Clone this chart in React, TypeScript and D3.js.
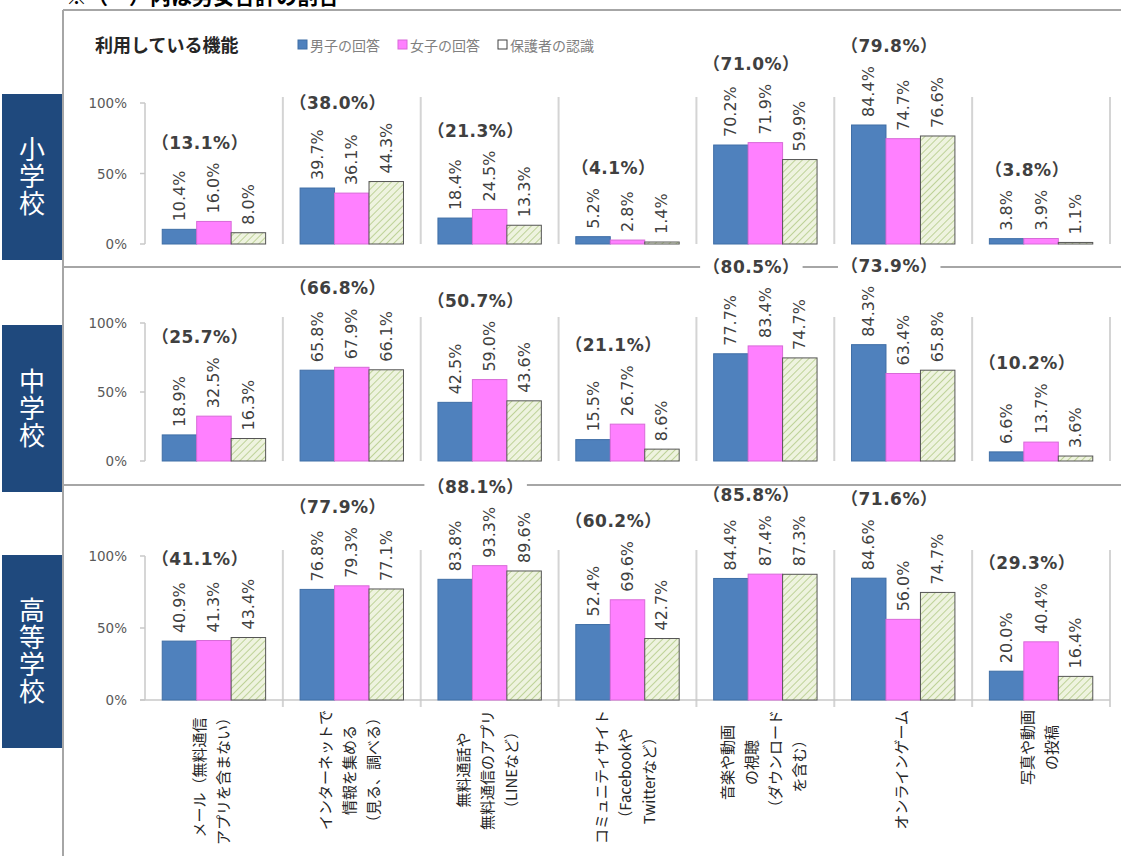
import * as d3 from "d3";
import React from "react";

const categoryLines: string[][] = [
  ["メール（無料通信", "アプリを含まない）"],
  ["インターネットで", "情報を集める", "（見る、調べる）"],
  ["無料通話や", "無料通信のアプリ", "（LINEなど）"],
  ["コミュニティサイト", "（Facebookや", "Twitterなど）"],
  ["音楽や動画", "の視聴", "（ダウンロード", "を含む）"],
  ["オンラインゲーム"],
  ["写真や動画", "の投稿"],
];
const categories = categoryLines.map((l) => l.join(""));
const seriesNames = ["男子の回答", "女子の回答", "保護者の認識"];

// 小学校
const elemBoys = [10.4, 39.7, 18.4, 5.2, 70.2, 84.4, 3.8];
const elemGirls = [16.0, 36.1, 24.5, 2.8, 71.9, 74.7, 3.9];
const elemParents = [8.0, 44.3, 13.3, 1.4, 59.9, 76.6, 1.1];
const elemTotal = [13.1, 38.0, 21.3, 4.1, 71.0, 79.8, 3.8];
// 中学校
const midBoys = [18.9, 65.8, 42.5, 15.5, 77.7, 84.3, 6.6];
const midGirls = [32.5, 67.9, 59.0, 26.7, 83.4, 63.4, 13.7];
const midParents = [16.3, 66.1, 43.6, 8.6, 74.7, 65.8, 3.6];
const midTotal = [25.7, 66.8, 50.7, 21.1, 80.5, 73.9, 10.2];
// 高等学校
const highBoys = [40.9, 76.8, 83.8, 52.4, 84.4, 84.6, 20.0];
const highGirls = [41.3, 79.3, 93.3, 69.6, 87.4, 56.0, 40.4];
const highParents = [43.4, 77.1, 89.6, 42.7, 87.3, 74.7, 16.4];
const highTotal = [41.1, 77.9, 88.1, 60.2, 85.8, 71.6, 29.3];

const yTicks = [0, 50, 100];

const panels = [
  { name: "小学校", series: [elemBoys, elemGirls, elemParents], total: elemTotal, y0: 244, y1: 103, box: [94, 260], baseline: false },
  { name: "中学校", series: [midBoys, midGirls, midParents], total: midTotal, y0: 461, y1: 323, box: [325, 492], baseline: false },
  { name: "高等学校", series: [highBoys, highGirls, highParents], total: highTotal, y0: 700, y1: 556, box: [555, 748], baseline: true },
];

const W = 1121;
const H = 856;
const numFont = "Verdana, 'DejaVu Sans', 'Noto Sans CJK JP', sans-serif";
const jpFont = "'Noto Sans CJK JP', sans-serif";
const colors = ["#4F81BD", "#FF80FF", "url(#hatch)"];
const strokes = ["#3f6ea6", "#d86ad8", "#555"];

export default function App() {
  const svgRef = React.useRef<SVGSVGElement | null>(null);

  React.useEffect(() => {
    const svg = d3.select(svgRef.current);
    svg.selectAll("*").remove();

    const defs = svg.append("defs");
    const pat = defs
      .append("pattern")
      .attr("id", "hatch")
      .attr("patternUnits", "userSpaceOnUse")
      .attr("width", 5)
      .attr("height", 5)
      .attr("patternTransform", "rotate(45)");
    pat.append("rect").attr("width", 5).attr("height", 5).attr("fill", "#EEF3DF");
    pat.append("line").attr("x1", 0).attr("y1", 0).attr("x2", 0).attr("y2", 5).attr("stroke", "#A9C47A").attr("stroke-width", 1.4);

    const x = d3.scaleBand<string>().domain(categories).range([145, 1110]).padding(0);
    const xs = d3.scaleBand<string>().domain(seriesNames).range([0, x.bandwidth()]).paddingInner(0).paddingOuter(0.5);

    // top caption (cut off by the page edge, as in the source)
    svg
      .append("text")
      .attr("x", 66)
      .attr("y", 4)
      .attr("font-family", jpFont)
      .attr("font-weight", "bold")
      .attr("font-size", 21)
      .attr("fill", "#000")
      .text("※（　）内は男女合計の割合");

    // frame
    svg.append("line").attr("x1", 63).attr("x2", W).attr("y1", 10).attr("y2", 10).attr("stroke", "#a6a6a6").attr("stroke-width", 2);
    svg.append("line").attr("x1", 63).attr("x2", 63).attr("y1", 10).attr("y2", H).attr("stroke", "#a6a6a6").attr("stroke-width", 2);

    // panel separators
    [267, 485].forEach((yy) => {
      svg.append("line").attr("x1", 63).attr("x2", W).attr("y1", yy).attr("y2", yy).attr("stroke", "#a6a6a6").attr("stroke-width", 2);
    });

    // legend
    svg
      .append("text")
      .attr("x", 95)
      .attr("y", 44)
      .attr("dominant-baseline", "central")
      .attr("font-family", jpFont)
      .attr("font-weight", "bold")
      .attr("font-size", 18)
      .attr("fill", "#262626")
      .text("利用している機能");
    const legendX = d3.scalePoint<string>().domain(seriesNames).range([298, 498]);
    seriesNames.forEach((s, i) => {
      const lx = legendX(s) ?? 0;
      svg
        .append("rect")
        .attr("x", lx)
        .attr("y", 40)
        .attr("width", 9)
        .attr("height", 9)
        .attr("fill", i === 2 ? "#fff" : colors[i])
        .attr("stroke", i === 2 ? "#404040" : strokes[i])
        .attr("stroke-width", 1);
      svg
        .append("text")
        .attr("x", lx + 12)
        .attr("y", 44.5)
        .attr("dominant-baseline", "central")
        .attr("font-family", jpFont)
        .attr("font-size", 14)
        .attr("fill", "#7f7f7f")
        .text(s);
    });

    const labelGroup = svg.append("g");

    panels.forEach((p) => {
      const y = d3.scaleLinear().domain([0, 100]).range([p.y0, p.y1]);

      // side label box with vertical text
      svg
        .append("rect")
        .attr("x", 2)
        .attr("y", p.box[0])
        .attr("width", 60)
        .attr("height", p.box[1] - p.box[0])
        .attr("fill", "#1F497D");
      svg
        .append("text")
        .attr("x", 32)
        .attr("y", (p.box[0] + p.box[1]) / 2)
        .attr("text-anchor", "middle")
        .style("writing-mode", "vertical-rl")
        .attr("letter-spacing", 1)
        .attr("font-family", jpFont)
        .attr("font-size", 26)
        .attr("fill", "#fff")
        .text(p.name);

      // y axis
      svg.append("line").attr("x1", 145).attr("x2", 145).attr("y1", y(100)).attr("y2", y(0)).attr("stroke", "#c8c8c8").attr("stroke-width", 1.5);
      yTicks.forEach((t) => {
        svg.append("line").attr("x1", 140).attr("x2", 145).attr("y1", y(t)).attr("y2", y(t)).attr("stroke", "#c8c8c8").attr("stroke-width", 1.5);
        svg
          .append("text")
          .attr("x", 127)
          .attr("y", y(t))
          .attr("text-anchor", "end")
          .attr("dominant-baseline", "central")
          .attr("font-family", numFont)
          .attr("font-size", 13.5)
          .attr("fill", "#595959")
          .text(`${t}%`);
      });

      // group separators
      categories.forEach((c) => {
        const gx = (x(c) ?? 0) + x.bandwidth();
        svg
          .append("line")
          .attr("x1", gx)
          .attr("x2", gx)
          .attr("y1", y(100) - 6)
          .attr("y2", p.baseline ? y(0) + 7 : y(0))
          .attr("stroke", "#d4d4d4")
          .attr("stroke-width", 2);
      });
      if (p.baseline) {
        svg.append("line").attr("x1", 140).attr("x2", 1110).attr("y1", y(0)).attr("y2", y(0)).attr("stroke", "#c8c8c8").attr("stroke-width", 1.5);
      }

      // bars + value labels
      categories.forEach((c, ci) => {
        let topMost = Infinity;
        seriesNames.forEach((s, si) => {
          const v = p.series[si][ci];
          const bx = (x(c) ?? 0) + (xs(s) ?? 0);
          svg
            .append("rect")
            .attr("x", bx)
            .attr("y", y(v))
            .attr("width", xs.bandwidth())
            .attr("height", y(0) - y(v))
            .attr("fill", colors[si])
            .attr("stroke", strokes[si])
            .attr("stroke-width", 1);
          const t = svg
            .append("text")
            .attr("transform", `translate(${bx + xs.bandwidth() / 2},${y(v) - 8}) rotate(-90)`)
            .attr("text-anchor", "start")
            .attr("dominant-baseline", "central")
            .attr("font-family", numFont)
            .attr("font-size", 16)
            .attr("fill", "#404040")
            .text(`${v.toFixed(1)}%`);
          const len = (t.node() as SVGTextElement).getComputedTextLength();
          topMost = Math.min(topMost, y(v) - 8 - len);
        });
        const cx = (x(c) ?? 0) + x.bandwidth() / 2 - 14;
        const ty = topMost - 20;
        const g = labelGroup.append("g");
        const bg = g.append("rect").attr("fill", "#fff");
        const tt = g
          .append("text")
          .attr("x", cx)
          .attr("y", ty)
          .attr("text-anchor", "middle")
          .attr("dominant-baseline", "central")
          .attr("font-family", numFont)
          .attr("font-weight", "bold")
          .attr("font-size", 17)
          .attr("letter-spacing", 0.5)
          .attr("fill", "#404040")
          .text(`（${p.total[ci].toFixed(1)}%）`);
        const bb = (tt.node() as SVGTextElement).getBBox();
        bg.attr("x", bb.x - 3).attr("y", bb.y + 2).attr("width", bb.width + 6).attr("height", bb.height - 4);
      });
    });

    // category labels (rotated, top anchored under the axis)
    categoryLines.forEach((lines, ci) => {
      const c = categories[ci];
      const gc = (x(c) ?? 0) + x.bandwidth() / 2 - 3;
      const texts = lines.map((l, li) =>
        svg
          .append("text")
          .attr("text-anchor", "middle")
          .attr("dominant-baseline", "central")
          .attr("font-family", jpFont)
          .attr("font-size", 15)
          .attr("fill", "#262626")
          .attr("data-x", gc + (li - (lines.length - 1) / 2) * 24)
          .text(l)
      );
      const maxLen = d3.max(texts, (t) => (t.node() as SVGTextElement).getComputedTextLength()) ?? 0;
      const yc = 710 + maxLen / 2;
      texts.forEach((t) => {
        t.attr("transform", `translate(${t.attr("data-x")},${yc}) rotate(-90)`);
      });
    });

    labelGroup.raise();
  }, []);

  return (
    <svg
      ref={svgRef}
      width={W}
      height={H}
      viewBox={`0 0 ${W} ${H}`}
      style={{ position: "absolute", left: 0, top: 0, background: "#fff" }}
    ></svg>
  );
}
